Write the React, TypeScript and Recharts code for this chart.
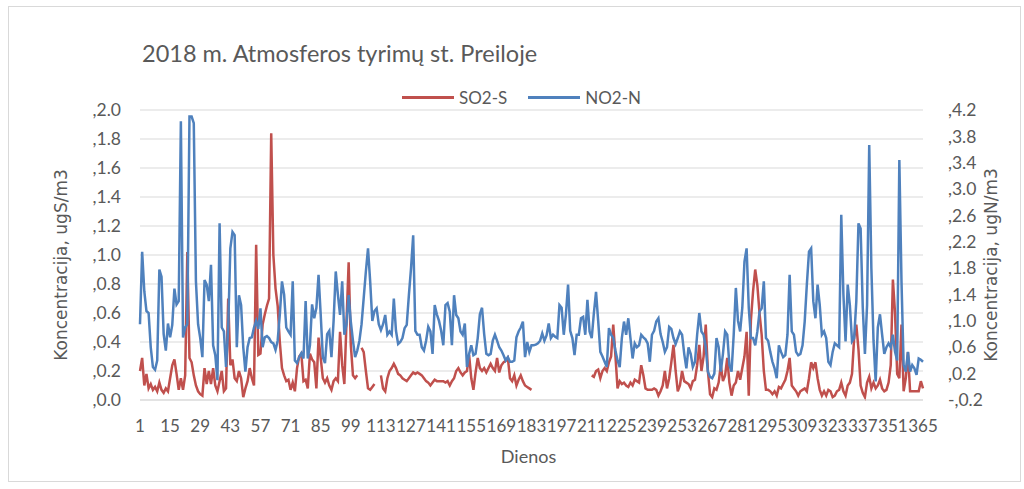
import { LineChart, Line, XAxis, YAxis, CartesianGrid, Legend, Label } from "recharts";

// 2018 m. Atmosferos tyrimų st. Preiloje — daily SO2-S (left axis) and NO2-N (right axis)

const days = Array.from({ length: 365 }, (_, i) => i + 1);

const so2 = [
  0.2, 0.29, 0.1, 0.18, 0.08, 0.11, 0.07, 0.09, 0.06, 0.12,
  0.07, 0.05, 0.08, 0.06, 0.15, 0.24, 0.28, 0.18, 0.07, 0.15,
  0.07, 0.17, 1.02, 0.29, 0.26, 0.17, 0.1, 0.06, 0.04, 0.03,
  0.22, 0.11, 0.2, 0.11, 0.22, 0.1, 0.06, 0.13, 0.2, 0.06,
  0.08, 0.7, 0.24, 0.28, 0.15, 0.13, 0.2, 0.15, 0.02, 0.08,
  0.13, 0.22, 0.15, 0.1, 1.07, 0.31, 0.32, 0.52, 0.59, 0.65,
  0.7, 1.84, 1.0, 0.77, 0.65, 0.4, 0.22, 0.17, 0.13, 0.14,
  0.07, 0.12, 0.06, 0.22, 0.3, 0.32, 0.13, 0.14, 0.08, 0.32,
  0.28, 0.26, 0.08, 0.43, 0.29, 0.15, 0.12, 0.15, 0.1, 0.07,
  0.13, 0.15, 0.13, 0.47, 0.24, 0.11, 0.54, 0.95, 0.38, 0.17,
  0.15, 0.17, null, 0.36, 0.33, 0.2, 0.08, 0.07, 0.09, 0.11,
  null, null, 0.17, 0.08, 0.06, 0.15, 0.2, 0.22, 0.25, 0.22,
  0.18, 0.17, 0.15, 0.14, 0.13, 0.15, 0.17, 0.19, 0.18, 0.19,
  0.18, 0.17, 0.15, 0.13, 0.12, 0.1, 0.12, 0.14, 0.13, 0.13,
  0.13, 0.13, 0.12, 0.13, 0.1, 0.13, 0.15, 0.2, 0.22, 0.19,
  0.17, 0.19, 0.2, 0.31, 0.15, 0.07, 0.19, 0.29, 0.22, 0.2,
  0.22, 0.19, 0.22, 0.25, 0.22, 0.2, 0.29, 0.19, 0.24, 0.26,
  0.27, 0.29, 0.15, 0.13, 0.17, 0.1, 0.14, 0.17, 0.13, 0.1,
  0.09, 0.08, 0.07, null, null, null, null, null, null, null,
  null, null, null, null, null, null, null, null, null, null,
  null, null, null, null, null, null, null, null, null, null,
  0.17, 0.16, 0.2, 0.21, 0.15, 0.2, 0.22, 0.2, 0.26, 0.3,
  0.52, 0.31, 0.08, 0.13, 0.11, 0.12, 0.1, 0.09, 0.12, 0.1,
  0.14, 0.13, 0.12, 0.24, 0.17, 0.08, 0.07, 0.07, 0.07, 0.08,
  0.07, 0.03, 0.06, 0.1, 0.2, 0.08, 0.15, 0.26, 0.38, 0.2,
  0.06, 0.1, 0.2, 0.13, 0.12, 0.11, 0.08, 0.13, 0.14, 0.24,
  0.38, 0.2, 0.3, 0.52, 0.2, 0.04, 0.02, 0.08, 0.07, 0.12,
  0.24, 0.13, 0.17, 0.29, 0.12, 0.03, 0.1, 0.12, 0.2, 0.14,
  0.22, 0.3, 0.47, 0.03, 0.55, 0.75, 0.9, 0.79, 0.6, 0.45,
  0.2, 0.07, 0.07, 0.06, 0.04, 0.06, 0.03, 0.09, 0.08, 0.11,
  0.14, 0.2, 0.29, 0.1, 0.08, 0.06, 0.03, 0.06, 0.07, 0.08,
  0.06, 0.15, 0.26, 0.22, 0.26, 0.15, 0.07, 0.03, 0.06, 0.03,
  0.07, 0.06, 0.02, 0.03, 0.06, 0.07, 0.12, 0.06, 0.03, 0.1,
  0.12, 0.18, 0.43, 0.52, 0.35, 0.1, 0.05, 0.02, 0.12, 0.16,
  0.08, 0.12, 0.08, 0.1, 0.14, 0.08, 0.06, 0.07, 0.12, 0.24,
  0.83, 0.6, 0.18, 0.15, 0.52, 0.06, 0.15, 0.33, 0.06, 0.06,
  0.06, 0.06, 0.06, 0.13, 0.08,
];

const no2 = [
  0.95, 2.05, 1.45, 1.15, 1.12, 0.6, 0.3, 0.26, 0.4, 1.78,
  1.67, 0.8, 0.55, 0.96, 0.75, 0.94, 1.49, 1.25, 1.3, 4.03,
  0.75, 0.9, 0.95, 4.1, 4.1, 4.0, 1.6, 0.95, 0.74, 0.45,
  1.62, 1.55, 1.3, 1.85, 0.63, 0.48, 0.1, 2.48, 0.9, 0.84,
  0.3, 0.9, 2.1, 2.35, 2.3, 0.6, 1.39, 1.24, 0.6, 0.23,
  0.6, 0.74, 0.75, 0.9, 1.0, 0.88, 1.19, 0.6, 0.75, 0.77,
  0.74, 0.68, 0.66, 0.56, 0.7, 1.1, 1.6, 1.4, 0.9, 0.84,
  0.79, 1.6, 0.4, 0.36, 0.45, 0.51, 0.43, 1.3, 0.43, 0.63,
  1.25, 1.04, 1.2, 1.7, 1.1, 0.45, 0.36, 0.8, 0.85, 0.45,
  1.0, 1.75, 1.4, 1.09, 1.6, 0.79, 0.95, 1.39, 0.99, 0.7,
  0.45, 0.55, 0.7, 0.95, 1.35, 1.75, 2.1, 1.6, 1.0, 1.15,
  1.19, 0.95, 0.86, 0.95, 1.09, 0.79, 0.84, 0.79, 1.34, 0.85,
  0.65, 0.68, 0.74, 0.89, 0.94, 1.39, 1.8, 2.3, 0.85, 0.79,
  0.79, 0.6, 0.55, 0.7, 0.91, 0.84, 0.5, 1.24, 1.1, 1.0,
  0.85, 0.63, 1.24, 1.27, 1.14, 0.63, 1.39, 1.09, 1.04, 0.84,
  0.79, 0.96, 0.3, 0.5, 0.63, 0.48, 0.5, 0.74, 1.1, 1.2,
  0.8, 0.5, 0.48, 0.5, 0.7, 0.79, 0.7, 0.6, 0.55, 0.48,
  0.4, 0.45, 0.38, 0.38, 0.4, 0.75, 0.84, 0.9, 0.99, 0.45,
  0.68, 0.53, 0.63, 0.63, 0.64, 0.66, 0.7, 0.81, 0.7, 0.78,
  0.96, 0.74, 0.79, 0.76, 0.74, 1.24, 1.2, 0.79, 1.1, 1.55,
  0.85, 0.74, 0.48, 0.79, 0.79, 1.04, 1.06, 0.79, 1.32, 0.84,
  0.74, 1.12, 1.44, 1.0, 0.53, 0.46, 0.38, 0.3, 0.89, 0.79,
  0.74, 0.55, 0.4, 0.3, 0.74, 0.99, 0.79, 1.04, 0.74, 0.43,
  0.66, 0.6, 0.63, 0.79, 0.75, 0.72, 0.66, 0.38, 0.79, 0.85,
  0.99, 1.04, 0.8, 0.68, 0.53, 0.6, 0.91, 0.88, 0.74, 0.65,
  0.74, 0.84, 0.79, 0.5, 0.28, 0.6, 0.5, 0.3, 0.38, 0.79,
  1.12, 0.84, 0.79, 0.6, 0.23, 0.15, 0.13, 0.2, 0.74, 0.6,
  0.23, 0.5, 0.84, 0.79, 0.33, 0.23, 0.79, 1.5, 1.0, 0.84,
  1.2, 1.9, 2.1, 1.2, 0.74, 0.74, 0.63, 0.84, 1.14, 1.19,
  1.6, 0.74, 0.7, 0.53, 0.38, 0.28, 0.13, 0.63, 0.53, 0.45,
  0.48, 0.79, 1.7, 0.84, 0.79, 0.53, 0.48, 0.5, 0.63, 0.99,
  1.55, 2.05, 2.1, 1.3, 1.04, 1.55, 1.24, 0.79, 0.84, 0.74,
  0.38, 0.33, 0.53, 0.66, 0.63, 0.6, 2.61, 1.4, 0.69, 1.55,
  1.24, 0.69, 0.74, 1.3, 2.48, 2.4, 1.2, 0.5, 1.24, 3.67,
  1.8, 0.7, 0.08, 0.9, 1.1, 0.79, 0.5, 0.6, 0.66, 0.6,
  0.79, 0.53, 0.4, 3.44, 1.6, 0.33, 0.23, 0.53, 0.23, 0.33,
  0.28, 0.18, 0.43, 0.41, 0.38,
];

const seriesNames = ["SO2-S", "NO2-N"];
const leftTicks = [0, 0.2, 0.4, 0.6, 0.8, 1.0, 1.2, 1.4, 1.6, 1.8, 2.0];
const rightTicks = [-0.2, 0.2, 0.6, 1.0, 1.4, 1.8, 2.2, 2.6, 3.0, 3.4, 3.8, 4.2];

const data = days.map((d, i) => ({ day: d, so2: so2[i], no2: no2[i] }));

const GREY = "#595959";
const GRID = "#d9d9d9";
const SANS = "Lato, 'Open Sans', sans-serif";

// Excel-style labels with a leading comma: ",2.0"  "-,0.2"
const fmt = (v: number) => (v < 0 ? `-,${Math.abs(v).toFixed(1)}` : `,${v.toFixed(1)}`);

const SideTitle = ({ viewBox, value, dx }: any) => {
  const cx = viewBox.x + dx;
  const cy = viewBox.y + viewBox.height / 2 + 10;
  return (
    <text
      x={cx}
      y={cy}
      transform={`rotate(-90 ${cx} ${cy})`}
      textAnchor="middle"
      dominantBaseline="central"
      fill={GREY}
      fontSize={17}
      fontFamily="'DejaVu Sans', sans-serif"
    >
      {value}
    </text>
  );
};

const BottomTitle = ({ viewBox }: any) => (
  <text
    x={viewBox.x + viewBox.width / 2 - 3}
    y={viewBox.y + 56}
    textAnchor="middle"
    dominantBaseline="central"
    fill={GREY}
    fontSize={18}
    fontFamily={SANS}
  >
    Dienos
  </text>
);

// keep the legend in series order (Recharts sorts by name otherwise)
const LegendContent = ({ payload }: any) => {
  const items = [...(payload || [])].sort(
    (a: any, b: any) => seriesNames.indexOf(a.value) - seriesNames.indexOf(b.value)
  );
  return (
    <div style={{ display: "flex", alignItems: "center", fontFamily: SANS, fontSize: 17, color: GREY }}>
      {items.map((p: any) => (
        <div key={p.value} style={{ display: "flex", alignItems: "center", marginRight: 21 }}>
          <span style={{ display: "inline-block", width: 52, height: 3, background: p.color, marginRight: 5 }} />
          <span>{p.value}</span>
        </div>
      ))}
    </div>
  );
};

export default function App() {
  return (
    <div style={{ position: "relative", width: 1024, height: 489, background: "#fff" }}>
      <style>{`body{margin:0}`}</style>
      <div
        style={{
          position: "absolute",
          left: 8,
          top: 6,
          width: 1013,
          height: 476,
          border: `1px solid ${GRID}`,
          boxSizing: "border-box",
        }}
      />
      <div
        style={{
          position: "absolute",
          left: 142,
          top: 39,
          fontFamily: SANS,
          fontSize: 23.5,
          lineHeight: "28px",
          color: GREY,
          whiteSpace: "nowrap",
        }}
      >
        2018 m. Atmosferos tyrimų st. Preiloje
      </div>
      <LineChart width={1024} height={489} data={data} margin={{ top: 110, right: 1, bottom: 19, left: 40 }}>
        <CartesianGrid yAxisId="left" vertical={false} stroke={GRID} />
        <XAxis
          dataKey="day"
          interval={13}
          tickLine={false}
          axisLine={{ stroke: GRID }}
          height={70}
          tickMargin={14}
          tick={{ fill: GREY, fontSize: 17, fontFamily: SANS }}
        >
          <Label content={<BottomTitle />} />
        </XAxis>
        <YAxis
          yAxisId="left"
          domain={[0, 2]}
          ticks={leftTicks}
          tickFormatter={fmt}
          axisLine={false}
          tickLine={false}
          width={100}
          tickMargin={13}
          tick={{ fill: GREY, fontSize: 17.5, fontFamily: SANS }}
        >
          <Label content={<SideTitle value="Koncentracija, ugS/m3" dx={21} />} />
        </YAxis>
        <YAxis
          yAxisId="right"
          orientation="right"
          domain={[-0.2, 4.2]}
          ticks={rightTicks}
          tickFormatter={fmt}
          axisLine={false}
          tickLine={false}
          width={100}
          tickMargin={19}
          tick={{ fill: GREY, fontSize: 17.5, fontFamily: SANS }}
        >
          <Label content={<SideTitle value="Koncentracija, ugN/m3" dx={68} />} />
        </YAxis>
        <Legend
          layout="horizontal"
          verticalAlign="middle"
          align="center"
          content={<LegendContent />}
          wrapperStyle={{ top: 87, left: 402, width: "auto" }}
        />
        <Line
          yAxisId="left"
          dataKey="so2"
          name="SO2-S"
          type="linear"
          stroke="#c0504d"
          strokeWidth={2.5}
          dot={false}
          activeDot={false}
          isAnimationActive={false}
        />
        <Line
          yAxisId="right"
          dataKey="no2"
          name="NO2-N"
          type="linear"
          stroke="#4f81bd"
          strokeWidth={2.5}
          dot={false}
          activeDot={false}
          isAnimationActive={false}
        />
      </LineChart>
    </div>
  );
}
